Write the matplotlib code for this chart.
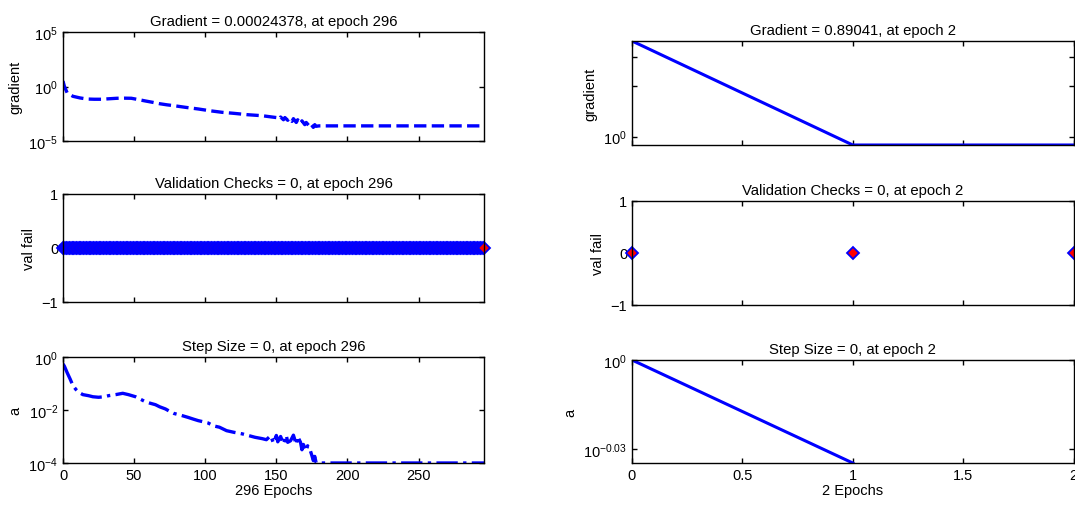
import numpy as np
import matplotlib
matplotlib.use("Agg")
import matplotlib.pyplot as plt

plt.rcParams['font.family'] = ['Liberation Sans', 'DejaVu Sans']
plt.rcParams['font.size'] = 10.5
plt.rcParams['axes.titlesize'] = 10.7
plt.rcParams['xtick.direction'] = 'in'
plt.rcParams['ytick.direction'] = 'in'
plt.rcParams['xtick.top'] = True
plt.rcParams['ytick.right'] = True
plt.rcParams['axes.linewidth'] = 1.0
plt.rcParams['xtick.major.size'] = 3.5
plt.rcParams['ytick.major.size'] = 3.5

# ---- left run: 296 epochs (log10) ----
grad_epochs = [0, 1, 3, 7, 12, 17, 22, 27, 33, 38, 43, 48, 53, 58, 63, 68, 73, 78,
               86, 95, 103, 112, 120, 130, 140, 147, 150, 152, 153, 155, 156, 158,
               159, 161, 162, 164, 165, 167, 168, 170, 171, 173, 174, 176, 177, 178,
               180, 296]
grad_log10 = [0.5, 0.0, -0.6, -0.9, -1.05, -1.15, -1.17, -1.17, -1.12, -1.08, -1.07,
              -1.08, -1.2, -1.33, -1.45, -1.58, -1.68, -1.76, -1.91, -2.06, -2.22,
              -2.37, -2.46, -2.59, -2.68, -2.8, -2.85, -3.0, -2.8, -3.05, -2.85, -3.1,
              -2.9, -3.2, -2.95, -3.3, -3.05, -3.4, -3.15, -3.5, -3.3, -3.6, -3.4,
              -3.75, -3.5, -3.65, -3.613, -3.613]

val_epochs = np.arange(0, 297)
val_fail = np.zeros(297)

step_epochs = [0, 1, 3, 5, 7, 9, 11, 14, 18, 21, 25, 29, 32, 37, 42, 46, 51, 54, 58,
               61, 65, 68, 72, 75, 78, 83, 88, 92, 95, 99, 102, 106, 110, 115, 120,
               126, 135, 140, 143, 146, 148, 150, 151, 153, 155, 157, 158, 160, 162,
               164, 165, 167, 168, 169, 171, 172, 174, 175, 176, 177, 178, 296]
step_log10 = [-0.26, -0.35, -0.6, -0.83, -1.08, -1.22, -1.33, -1.42, -1.46, -1.5,
              -1.52, -1.5, -1.46, -1.42, -1.37, -1.42, -1.5, -1.58, -1.69, -1.74,
              -1.8, -1.88, -1.96, -2.05, -2.13, -2.2, -2.28, -2.35, -2.4, -2.45,
              -2.49, -2.6, -2.65, -2.78, -2.84, -2.9, -3.03, -3.08, -3.12, -2.97,
              -3.25, -2.96, -3.2, -3.0, -3.28, -2.96, -3.22, -3.16, -2.95, -3.3,
              -3.0, -3.22, -3.5, -3.3, -3.54, -3.35, -3.55, -3.72, -3.91, -3.75,
              -4.0, -4.0]

# ---- right run: 2 epochs ----
r_epochs = [0, 1, 2]
r_grad = [3.75, 0.89041, 0.89041]
r_val_fail = [0, 0, 0]
r_step = [1.0, 0.923, 0.0]

blue = (0, 0, 1)
red = (1, 0, 0)

W, H = 1075, 506
fig = plt.figure(figsize=(W / 100, H / 100), dpi=100)


def box(x0, y0, x1, y1):
    return [x0 / W, 1 - y1 / H, (x1 - x0) / W, (y1 - y0) / H]


# left column
ax1 = fig.add_axes(box(63, 33, 484, 142))
ax2 = fig.add_axes(box(63, 195, 484, 303))
ax3 = fig.add_axes(box(63, 358, 484, 464))
# right column
ax4 = fig.add_axes(box(632, 42, 1073.5, 146))
ax5 = fig.add_axes(box(632, 202, 1073.5, 306))
ax6 = fig.add_axes(box(632, 361, 1073.5, 464))

for ax in (ax1, ax2, ax3, ax4, ax5, ax6):
    ax.tick_params(which='both', width=1.0)

# gradient, 296 epochs
ax1.semilogy(grad_epochs, 10 ** np.array(grad_log10), '--', color=blue, lw=2.4)
ax1.set_xlim(0, 296)
ax1.set_ylim(1e-5, 1e5)
ax1.set_yticks([1e-5, 1e0, 1e5])
ax1.minorticks_off()
ax1.set_xticks([0, 50, 100, 150, 200, 250])
ax1.set_xticklabels([])
ax1.set_ylabel('gradient')
ax1.set_title('Gradient = 0.00024378, at epoch 296', pad=5)

# validation checks, 296 epochs
ax2.plot(val_epochs, val_fail, 'D', color=blue, mfc=red, mec=blue, ms=6, mew=1.3,
         clip_on=False)
ax2.set_xlim(0, 296)
ax2.set_ylim(-1, 1)
ax2.set_yticks([-1, 0, 1])
ax2.set_xticks([0, 50, 100, 150, 200, 250])
ax2.set_xticklabels([])
ax2.set_ylabel('val fail')
ax2.set_title('Validation Checks = 0, at epoch 296', pad=5)

# step size, 296 epochs
ax3.semilogy(step_epochs, 10 ** np.array(step_log10), '-.', color=blue, lw=2.4)
ax3.set_xlim(0, 296)
ax3.set_ylim(1e-4, 1e0)
ax3.set_yticks([1e-4, 1e-2, 1e0])
ax3.minorticks_off()
ax3.set_xticks([0, 50, 100, 150, 200, 250])
ax3.set_ylabel('a')
ax3.set_xlabel('296 Epochs', labelpad=1)
ax3.set_title('Step Size = 0, at epoch 296', pad=5)

# gradient, 2 epochs
ax4.semilogy(r_epochs, r_grad, '-', color=blue, lw=2.2)
ax4.set_xlim(0, 2)
ax4.set_ylim(min(r_grad), max(r_grad))
ax4.minorticks_off()
ax4.set_yticks([1, 2, 3])
ax4.set_yticklabels([r'$\mathdefault{10^{0}}$', '', ''])
ax4.set_xticks([0, 0.5, 1, 1.5, 2])
ax4.set_xticklabels([])
ax4.set_ylabel('gradient')
ax4.set_title('Gradient = 0.89041, at epoch 2', pad=5)

# validation checks, 2 epochs
ax5.plot(r_epochs, r_val_fail, 'D', mfc=red, mec=blue, ms=6, mew=1.3, clip_on=False)
ax5.set_xlim(0, 2)
ax5.set_ylim(-1, 1)
ax5.set_yticks([-1, 0, 1])
ax5.set_xticks([0, 0.5, 1, 1.5, 2])
ax5.set_xticklabels([])
ax5.set_ylabel('val fail')
ax5.set_title('Validation Checks = 0, at epoch 2', pad=5)

# step size, 2 epochs (zero step cannot show on log axis)
r_step_arr = np.array(r_step)
r_step_arr[r_step_arr <= 0] = np.nan
ax6.semilogy(r_epochs, r_step_arr, '-', color=blue, lw=2.2)
ax6.set_xlim(0, 2)
ax6.set_ylim(0.923, 1.0)
ax6.minorticks_off()
ax6.set_yticks([10 ** -0.03, 1.0])
ax6.set_yticklabels([r'$\mathdefault{10^{-0.03}}$', r'$\mathdefault{10^{0}}$'])
ax6.set_xticks([0, 0.5, 1, 1.5, 2])
ax6.set_xticklabels(['0', '0.5', '1', '1.5', '2'])
ax6.set_ylabel('a')
ax6.set_xlabel('2 Epochs', labelpad=1)
ax6.set_title('Step Size = 0, at epoch 2', pad=5)

fig.savefig('out.png', dpi=100)
